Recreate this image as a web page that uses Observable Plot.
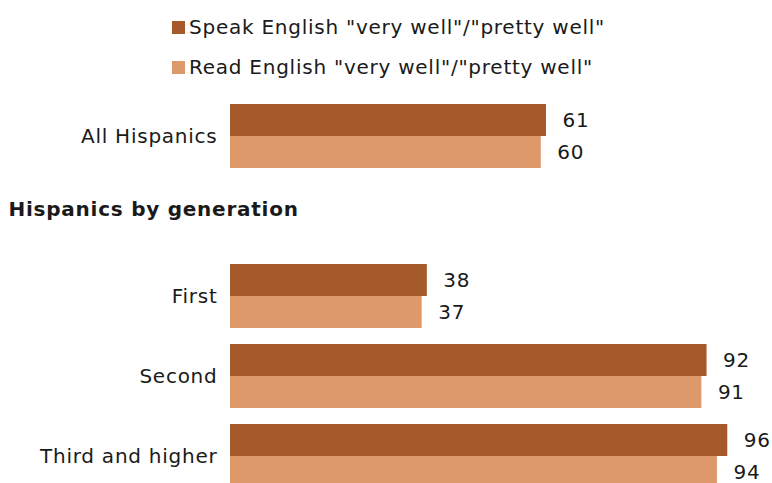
<!DOCTYPE html>
<html>
<head>
<meta charset="utf-8">
<script src="https://cdn.jsdelivr.net/npm/d3@7"></script>
<script src="https://cdn.jsdelivr.net/npm/@observablehq/plot@0.6"></script>
<style>
  html, body { margin: 0; padding: 0; background: #fff; overflow: hidden; }
  body { width: 772px; height: 483px; font-family: "DejaVu Sans", Verdana, sans-serif; color: #1a1a1a; }
  #legend { position: relative; height: 80px; width: 772px; }
  .sw { position: absolute; width: 13px; height: 13px; }
  .lt { position: absolute; font-size: 20px; line-height: 20px; white-space: nowrap; letter-spacing: 0.75px; }
</style>
</head>
<body>
<div id="legend"></div>
<div id="chart"></div>
<script>
const rows = ["All Hispanics", "First", "Second", "Third and higher"];
const header = "Hispanics by generation";
const categories = ["All Hispanics", header, "First", "Second", "Third and higher"];
const series = ['Speak English "very well"/"pretty well"', 'Read English "very well"/"pretty well"'];
const speak = [61, 38, 92, 96];
const read = [60, 37, 91, 94];
const colors = ["#A6592A", "#DE996A"];

const data = rows.flatMap((r, i) => [
  {row: r, series: series[0], value: speak[i]},
  {row: r, series: series[1], value: read[i]}
]);

// Legend
const legend = document.getElementById("legend");
series.forEach((s, i) => {
  const sw = document.createElement("div");
  sw.className = "sw";
  sw.style.left = "172px";
  sw.style.top = (21 + i * 40) + "px";
  sw.style.background = colors[i];
  legend.appendChild(sw);
  const t = document.createElement("div");
  t.className = "lt";
  t.style.left = "189px";
  t.style.top = (17 + i * 40) + "px";
  t.textContent = s;
  legend.appendChild(t);
});

const chart = Plot.plot({
  width: 772,
  height: 424,
  marginTop: 8,
  marginBottom: 0,
  marginLeft: 230,
  marginRight: 24,
  style: {fontSize: "20px", fontFamily: "'DejaVu Sans', Verdana, sans-serif", letterSpacing: "0.75px", color: "#1a1a1a", background: "#fff", overflow: "visible"},
  x: {domain: [0, 100], axis: null},
  y: {domain: series, axis: null, padding: 0},
  fy: {
    domain: categories,
    paddingInner: 0.2,
    paddingOuter: 0.2,
    label: null,
    tickSize: 0,
    tickPadding: 13,
    tickFormat: d => d === header ? "" : d
  },
  color: {domain: series, range: colors},
  marks: [
    Plot.barX(data, {x: "value", y: "series", fy: "row", fill: "series"}),
    Plot.text(data, {x: "value", y: "series", fy: "row", text: d => String(d.value), textAnchor: "start", dx: 16, fill: "#1a1a1a"}),
    Plot.text([header], {fy: d => d, text: d => d, frameAnchor: "left", textAnchor: "start", dx: -222, dy: -7, fontWeight: "bold", fill: "#1a1a1a"})
  ]
});
document.getElementById("chart").appendChild(chart);
</script>
</body>
</html>
